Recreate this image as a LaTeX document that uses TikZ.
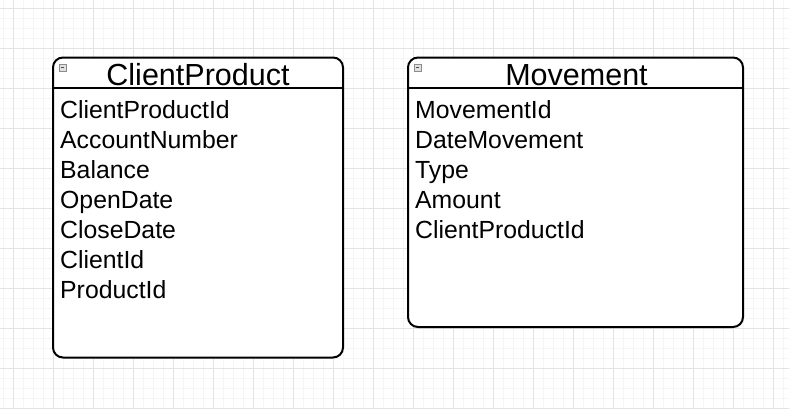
\documentclass[tikz,border=0pt]{standalone}
\usepackage{fontspec}
\setmainfont{Liberation Sans}
\begin{document}
\begin{tikzpicture}[x=1pt,y=-1pt,
  entity/.style={draw=black, line width=2pt, rounded corners=10pt, fill=white, inner sep=0pt},
  headtext/.style={anchor=base, inner sep=0pt, font=\fontsize{30.5}{31}\selectfont},
  attr/.style={anchor=base west, inner sep=0pt, font=\fontsize{24.8}{26}\selectfont},
  sepline/.style={draw=black, line width=2pt},
  toggle/.style={draw=gray!90, fill=black!12, line width=0.6pt, minimum width=7.5pt, minimum height=7pt, inner sep=0pt, anchor=north west}
]
\useasboundingbox (0,0) rectangle (789,408);
\fill[white] (0,0) rectangle (789,408);
% minor grid
\foreach \x in {3,13,...,789} \draw[color=black!4, line width=1pt] (\x,0) -- (\x,408);
\foreach \y in {8,18,...,408} \draw[color=black!4, line width=1pt] (0,\y) -- (789,\y);
% major grid
\foreach \x in {13,53,...,789} \draw[color=black!11, line width=1pt] (\x,0) -- (\x,408);
\foreach \y in {8,48,...,408} \draw[color=black!11, line width=1pt] (0,\y) -- (789,\y);

% ClientProduct entity
\node[entity, minimum width=290pt, minimum height=300pt] (cp) at (198,207.5) {};
\coordinate (cpL) at (53,88);
\coordinate (cpR) at (343,88);
\draw[sepline] (cpL) -- (cpR);
\node[toggle] (cpt) at (58.5,63.5) {};
\draw[black!70, line width=0.8pt] ([xshift=1.5pt]cpt.center) -- ([xshift=-1.5pt]cpt.center);
\node[headtext] (cph) at (198,85) {ClientProduct};
\node[attr] (cp1) at (60,118.5) {ClientProductId};
\node[attr] (cp2) at (60,148.5) {AccountNumber};
\node[attr] (cp3) at (60,178.5) {Balance};
\node[attr] (cp4) at (60,208.5) {OpenDate};
\node[attr] (cp5) at (60,238.5) {CloseDate};
\node[attr] (cp6) at (60,268.5) {ClientId};
\node[attr] (cp7) at (60,298.5) {ProductId};

% Movement entity
\node[entity, minimum width=335pt, minimum height=269.5pt] (mv) at (575.5,192.25) {};
\coordinate (mvL) at (408,88);
\coordinate (mvR) at (743,88);
\draw[sepline] (mvL) -- (mvR);
\node[toggle] (mvt) at (413.5,63.5) {};
\draw[black!70, line width=0.8pt] ([xshift=1.5pt]mvt.center) -- ([xshift=-1.5pt]mvt.center);
\node[headtext] (mvh) at (576.5,85) {Movement};
\node[attr] (mv1) at (415,118.5) {MovementId};
\node[attr] (mv2) at (415,148.5) {DateMovement};
\node[attr] (mv3) at (415,178.5) {Type};
\node[attr] (mv4) at (415,208.5) {Amount};
\node[attr] (mv5) at (415,238.5) {ClientProductId};
\end{tikzpicture}
\end{document}
